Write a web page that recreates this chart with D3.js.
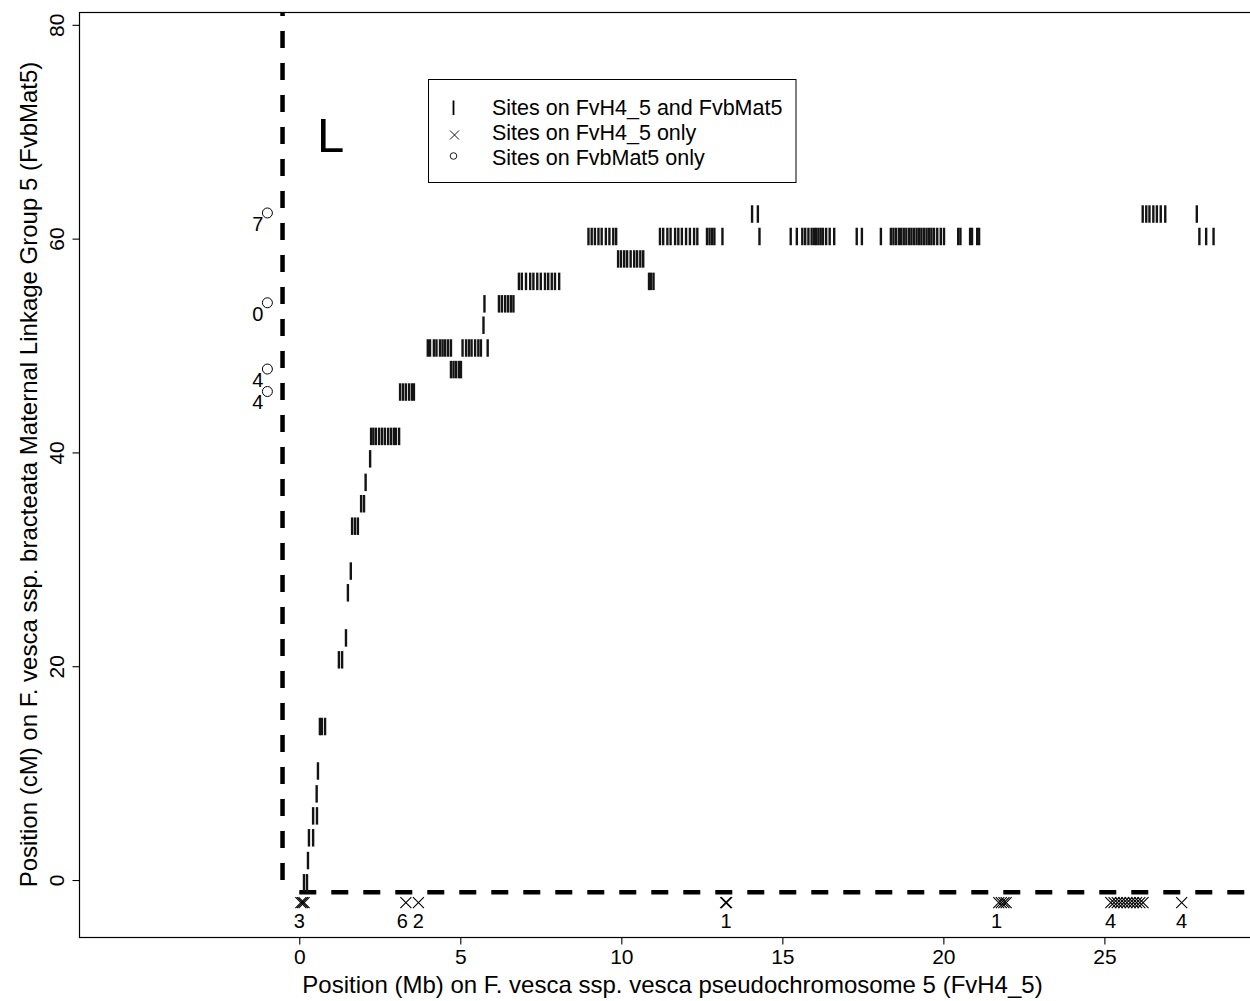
<!DOCTYPE html>
<html>
<head>
<meta charset="utf-8">
<script src="https://cdn.jsdelivr.net/npm/d3@7"></script>
<style>
  html, body { margin: 0; padding: 0; background: #fff; }
  svg { display: block; font-family: "Liberation Sans", Arial, sans-serif; }
</style>
</head>
<body>
<svg id="chart" width="1250" height="1001"></svg>
<script>
// Linkage-map levels (cM) on FvbMat5 and the physical positions (Mb) on FvH4_5
// of the sites found on both assemblies at each level.
const sharedCM = [
  -0.26, 1.82, 3.95, 6.0, 8.06, 10.2, 14.36, 20.6, 22.65, 26.87, 28.9,
  33.1, 35.2, 37.2, 39.4, 41.5, 45.65, 47.75, 49.77, 51.9, 53.9, 56.0,
  58.1, 60.2, 62.3
];
const sharedMb = [
  [0.146, 0.24],
  [0.27],
  [0.30, 0.43],
  [0.43, 0.55],
  [0.54],
  [0.58],
  [0.64, 0.70, 0.80],
  [1.23, 1.33],
  [1.45],
  [1.51],
  [1.60],
  [1.64, 1.73, 1.82],
  [1.92, 2.01],
  [2.06],
  [2.20],
  [2.23, 2.30, 2.38, 2.48, 2.57, 2.66, 2.76, 2.85, 2.94, 3.00, 3.10],
  [3.13, 3.22, 3.31, 3.41, 3.50, 3.56],
  [4.71, 4.79, 4.87, 4.96, 5.02],
  [3.99, 4.06, 4.18, 4.26, 4.37, 4.45, 4.53, 4.62, 4.71,
   5.07, 5.18, 5.27, 5.35, 5.46, 5.56, 5.64, 5.85],
  [5.72],
  [5.75, 6.20, 6.29, 6.39, 6.48, 6.57, 6.65],
  [6.82, 6.91, 7.04, 7.17, 7.27, 7.39, 7.50, 7.63, 7.73, 7.84, 7.94, 8.07,
   10.86, 10.92, 11.00],
  [9.90, 9.99, 10.09, 10.18, 10.29, 10.40, 10.49, 10.59, 10.68],
  [8.98, 9.08, 9.18, 9.29, 9.39, 9.52, 9.63, 9.75, 9.84,
   11.20, 11.30, 11.43, 11.53, 11.67, 11.77, 11.88, 12.01, 12.13, 12.26, 12.36,
   12.66, 12.74, 12.82, 12.89, 13.14, 14.29,
   15.26, 15.45, 15.62, 15.71, 15.81, 15.91, 15.99, 16.05, 16.12, 16.19, 16.26,
   16.36, 16.47, 16.61, 17.31, 17.47, 18.06,
   18.37, 18.45, 18.53, 18.62, 18.69, 18.77, 18.85, 18.94, 19.01, 19.09, 19.17,
   19.25, 19.32, 19.40, 19.48, 19.56, 19.63, 19.71, 19.81, 19.92, 20.02,
   20.46, 20.53, 20.83, 20.89, 21.05, 21.11,
   27.95, 28.16, 28.39],
  [14.06, 14.24, 26.19, 26.30, 26.40, 26.52, 26.63, 26.75, 26.89, 27.87]
];

// Sites present on FvH4_5 only (drawn below the dashed baseline)
const h4OnlyCM = -2.12;
const h4OnlyMb = [
  0.05, 0.10, 0.15,
  3.31, 3.70,
  13.24, 13.27,
  21.72, 21.80, 21.88, 21.95,
  25.20, 25.30, 25.40, 25.50, 25.60, 25.70, 25.80, 25.90, 26.00, 26.10, 26.20,
  27.40
];
const h4OnlyLabelText = ["3", "6", "2", "1", "1", "4", "4"];
const h4OnlyLabelMb = [0.0, 3.2, 3.7, 13.25, 21.65, 25.19, 27.4];

// Sites present on FvbMat5 only (drawn left of the dashed line)
const matOnlyMb = -0.99;
const matOnlyCM = [62.4, 54.0, 47.8, 45.7];
const matOnlyLabelText = ["7", "0", "4", "4"];

// Dashed reference lines
const refLineMb = -0.52;
const refLineCM = -1.15;

const xTicks = [0, 5, 10, 15, 20, 25];
const yTicks = [0, 20, 40, 60, 80];

const legendLabels = [
  "Sites on FvH4_5 and FvbMat5",
  "Sites on FvH4_5 only",
  "Sites on FvbMat5 only"
];

const panelLetter = "L";
const xTitle = "Position (Mb) on F. vesca ssp. vesca pseudochromosome 5 (FvH4_5)";
const yTitle = "Position (cM) on F. vesca ssp. bracteata Maternal Linkage Group 5 (FvbMat5)";

// ---- layout ----
const plot = { left: 79, top: 12, right: 1258, bottom: 937 };
const svg = d3.select("#chart");

const x = d3.scaleLinear().domain([-6.84, 29.77]).range([plot.left, plot.right]);
const y = d3.scaleLinear().domain([-5.33, 81.2]).range([plot.bottom, plot.top]);

// frame
svg.append("rect")
  .attr("x", plot.left + 0.5).attr("y", plot.top + 0.5)
  .attr("width", plot.right - plot.left).attr("height", plot.bottom - plot.top)
  .attr("fill", "none").attr("stroke", "#000").attr("stroke-width", 1.2);

// bottom axis
const gx = svg.append("g")
  .attr("transform", `translate(0,${plot.bottom + 0.5})`)
  .call(d3.axisBottom(x).tickValues(xTicks).tickFormat(d3.format("d"))
    .tickSize(7).tickSizeOuter(0).tickPadding(5));
gx.select(".domain").remove();
gx.selectAll("line").attr("stroke", "#000").attr("stroke-width", 1.1);
gx.selectAll("text").attr("font-size", 21).attr("fill", "#000")
  .attr("font-family", "Liberation Sans, Arial, sans-serif");

// left axis with labels turned parallel to the axis
const gy = svg.append("g")
  .attr("transform", `translate(${plot.left + 0.5},0)`)
  .call(d3.axisLeft(y).tickValues(yTicks).tickFormat(d3.format("d"))
    .tickSize(7).tickSizeOuter(0));
gy.select(".domain").remove();
gy.selectAll("line").attr("stroke", "#000").attr("stroke-width", 1.1);
gy.selectAll("text")
  .attr("font-size", 21).attr("fill", "#000")
  .attr("font-family", "Liberation Sans, Arial, sans-serif")
  .attr("transform", "rotate(-90)")
  .attr("text-anchor", "middle")
  .attr("x", 0).attr("y", -16).attr("dy", 0);

// axis titles
svg.append("text")
  .attr("x", (plot.left + plot.right) / 2 + 4).attr("y", 993)
  .attr("text-anchor", "middle").attr("font-size", 24).attr("fill", "#000")
  .text(xTitle);
svg.append("text")
  .attr("transform", `translate(37,${(plot.top + plot.bottom) / 2}) rotate(-90)`)
  .attr("text-anchor", "middle").attr("font-size", 24).attr("fill", "#000")
  .text(yTitle);

// dashed reference lines
svg.append("line")
  .attr("x1", x(refLineMb)).attr("x2", x(refLineMb))
  .attr("y1", y(0)).attr("y2", plot.top)
  .attr("stroke", "#000").attr("stroke-width", 4.5)
  .attr("stroke-dasharray", "17,15");
svg.append("line")
  .attr("x1", x(0)).attr("x2", plot.right)
  .attr("y1", y(refLineCM)).attr("y2", y(refLineCM))
  .attr("stroke", "#000").attr("stroke-width", 4.5)
  .attr("stroke-dasharray", "17,15");

// shared sites: short vertical bars
const barHalf = 8.75;
const shared = sharedCM.flatMap((cm, i) => sharedMb[i].map(mb => ({ mb, cm })));
svg.append("g").selectAll("line").data(shared).join("line")
  .attr("x1", d => x(d.mb)).attr("x2", d => x(d.mb))
  .attr("y1", d => y(d.cm) - barHalf).attr("y2", d => y(d.cm) + barHalf)
  .attr("stroke", "#141414").attr("stroke-width", 2.4);

// FvH4_5-only sites: crosses
const cr = 5.5;
svg.append("g").selectAll("path").data(h4OnlyMb).join("path")
  .attr("d", d => {
    const cx = x(d), cy = y(h4OnlyCM);
    return `M${cx - cr},${cy - cr}L${cx + cr},${cy + cr}M${cx - cr},${cy + cr}L${cx + cr},${cy - cr}`;
  })
  .attr("fill", "none").attr("stroke", "#000").attr("stroke-width", 1.1);
svg.append("g").selectAll("text").data(h4OnlyLabelText).join("text")
  .attr("x", (d, i) => x(h4OnlyLabelMb[i])).attr("y", y(h4OnlyCM) + 25)
  .attr("text-anchor", "middle").attr("font-size", 20).attr("fill", "#000")
  .text(d => d);

// FvbMat5-only sites: open circles
svg.append("g").selectAll("circle").data(matOnlyCM).join("circle")
  .attr("cx", x(matOnlyMb)).attr("cy", d => y(d)).attr("r", 5)
  .attr("fill", "none").attr("stroke", "#000").attr("stroke-width", 1);
svg.append("g").selectAll("text").data(matOnlyCM).join("text")
  .attr("x", x(matOnlyMb) - 4).attr("y", d => y(d) + 18)
  .attr("text-anchor", "end").attr("font-size", 20).attr("fill", "#000")
  .text((d, i) => matOnlyLabelText[i]);

// panel letter
svg.append("text")
  .attr("x", 317).attr("y", 152)
  .attr("font-size", 49).attr("fill", "#000")
  .text(panelLetter);

// legend
const lg = svg.append("g");
lg.append("rect")
  .attr("x", 428.5).attr("y", 79.5).attr("width", 367.5).attr("height", 103)
  .attr("fill", "#fff").attr("stroke", "#000").attr("stroke-width", 1);
const rowBase = [115, 140, 165];
lg.selectAll("text").data(legendLabels).join("text")
  .attr("x", 492).attr("y", (d, i) => rowBase[i])
  .attr("font-size", 21.5).attr("fill", "#000")
  .text(d => d);
lg.append("line")
  .attr("x1", 453.5).attr("x2", 453.5).attr("y1", 100.5).attr("y2", 115)
  .attr("stroke", "#000").attr("stroke-width", 1.8);
const lc = 4.5, lcx = 454.5, lcy = 135;
lg.append("path")
  .attr("d", `M${lcx - lc},${lcy - lc}L${lcx + lc},${lcy + lc}M${lcx - lc},${lcy + lc}L${lcx + lc},${lcy - lc}`)
  .attr("stroke", "#000").attr("stroke-width", 0.9).attr("fill", "none");
lg.append("circle")
  .attr("cx", 453.5).attr("cy", 156).attr("r", 3.3)
  .attr("fill", "none").attr("stroke", "#000").attr("stroke-width", 0.9);
</script>
</body>
</html>
